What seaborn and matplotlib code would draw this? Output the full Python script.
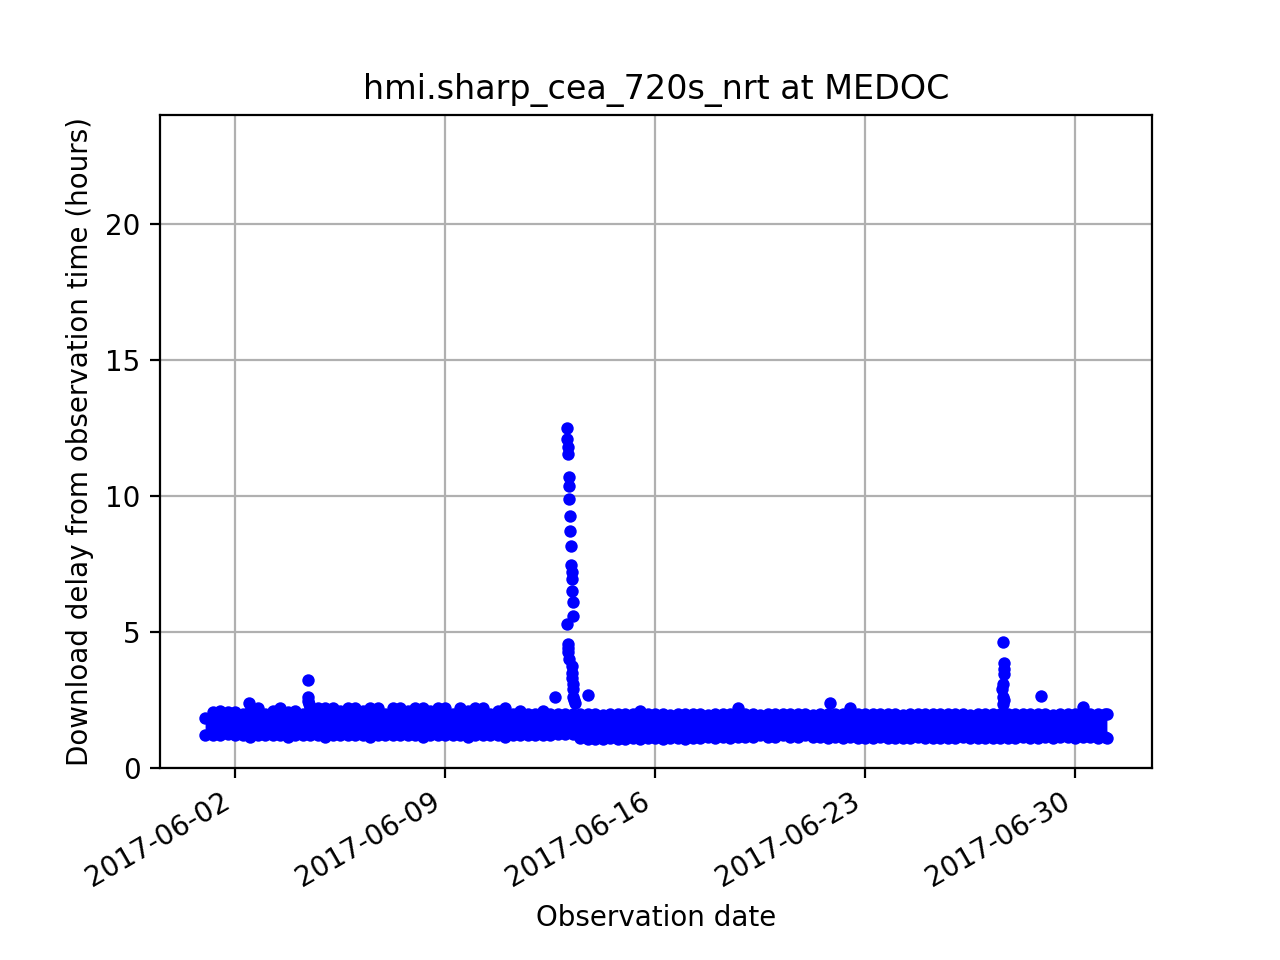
import numpy as np
import pandas as pd
import matplotlib
matplotlib.use("Agg")
import matplotlib.pyplot as plt
import seaborn as sns

# ---- data ----
# dense band of delays, sampled every 6 hours from 2017-06-01 00:00, plus a final sample
band_start = "2017-06-01 00:00"
band_last = "2017-07-01 01:30"
band_upper = [
    1.85, 2.05, 2.1, 2.05,   # 06-01
    2.05, 2.0, 2.1, 2.2,     # 06-02
    2.0, 2.1, 2.2, 2.05,     # 06-03
    2.1, 2.0, 2.2, 2.2,      # 06-04
    2.2, 2.2, 2.1, 2.2,      # 06-05
    2.2, 2.1, 2.2, 2.2,      # 06-06
    2.0, 2.2, 2.2, 2.1,      # 06-07
    2.2, 2.2, 2.1, 2.2,      # 06-08
    2.2, 2.0, 2.2, 2.1,      # 06-09
    2.2, 2.2, 2.0, 2.1,      # 06-10
    2.2, 2.0, 2.1, 2.0,      # 06-11
    2.0, 2.1, 2.0, 2.0,      # 06-12
    2.0, 2.0, 2.0, 2.0,      # 06-13
    2.0, 1.95, 2.0, 2.0,     # 06-14
    2.0, 2.0, 2.1, 2.0,      # 06-15
    2.0, 2.0, 1.95, 2.0,     # 06-16
    2.0, 2.0, 2.0, 1.95,     # 06-17
    2.0, 2.0, 2.0, 2.2,      # 06-18
    2.0, 2.0, 1.95, 2.0,     # 06-19
    2.0, 2.0, 2.0, 2.0,      # 06-20
    2.0, 1.95, 2.0, 2.0,     # 06-21
    2.0, 2.0, 2.2, 2.0,      # 06-22
    2.0, 2.0, 2.0, 2.0,      # 06-23
    2.0, 1.95, 2.0, 2.0,     # 06-24
    2.0, 2.0, 2.0, 2.0,      # 06-25
    2.0, 2.0, 1.95, 2.0,     # 06-26
    2.0, 2.0, 2.0, 2.0,      # 06-27
    2.0, 2.0, 2.0, 2.0,      # 06-28
    2.0, 1.95, 2.0, 2.0,     # 06-29
    2.0, 2.25, 2.0, 2.0,     # 06-30
    2.0, 2.0,                # 07-01
]
band_lower = [
    1.2, 1.2, 1.2, 1.25,     # 06-01
    1.2, 1.2, 1.15, 1.2,     # 06-02
    1.2, 1.2, 1.2, 1.15,     # 06-03
    1.2, 1.2, 1.2, 1.2,      # 06-04
    1.15, 1.2, 1.2, 1.2,     # 06-05
    1.2, 1.2, 1.15, 1.2,     # 06-06
    1.2, 1.2, 1.2, 1.2,      # 06-07
    1.2, 1.15, 1.2, 1.2,     # 06-08
    1.2, 1.2, 1.2, 1.15,     # 06-09
    1.2, 1.2, 1.2, 1.2,      # 06-10
    1.15, 1.2, 1.2, 1.2,     # 06-11
    1.2, 1.2, 1.2, 1.25,     # 06-12
    1.25, 1.25, 1.1, 1.05,   # 06-13
    1.05, 1.05, 1.1, 1.05,   # 06-14
    1.05, 1.1, 1.05, 1.1,    # 06-15
    1.1, 1.05, 1.1, 1.1,     # 06-16
    1.05, 1.1, 1.1, 1.15,    # 06-17
    1.1, 1.15, 1.1, 1.15,    # 06-18
    1.15, 1.15, 1.2, 1.15,   # 06-19
    1.15, 1.2, 1.15, 1.15,   # 06-20
    1.2, 1.15, 1.15, 1.1,    # 06-21
    1.15, 1.1, 1.15, 1.1,    # 06-22
    1.1, 1.1, 1.15, 1.1,     # 06-23
    1.1, 1.1, 1.1, 1.15,     # 06-24
    1.1, 1.1, 1.1, 1.1,      # 06-25
    1.1, 1.15, 1.1, 1.1,     # 06-26
    1.1, 1.1, 1.1, 1.1,      # 06-27
    1.1, 1.15, 1.1, 1.1,     # 06-28
    1.15, 1.1, 1.15, 1.15,   # 06-29
    1.1, 1.15, 1.15, 1.1,    # 06-30
    1.15, 1.1,               # 07-01
]

# individual delayed observations above the band
outlier_times = [
    "2017-06-02 11:12", "2017-06-04 10:24", "2017-06-04 10:24", "2017-06-04 10:24",
    "2017-06-04 10:48",
    "2017-06-12 16:00", "2017-06-13 01:24", "2017-06-13 01:36", "2017-06-13 01:48",
    "2017-06-13 02:00", "2017-06-13 02:00", "2017-06-13 02:12", "2017-06-13 02:12",
    "2017-06-13 02:36", "2017-06-13 02:48", "2017-06-13 03:00", "2017-06-13 03:12",
    "2017-06-13 03:24", "2017-06-13 03:48", "2017-06-13 04:12", "2017-06-13 04:36",
    "2017-06-13 04:48", "2017-06-13 05:12", "2017-06-13 05:24", "2017-06-13 05:36",
    "2017-06-13 06:12", "2017-06-13 06:24", "2017-06-13 05:24", "2017-06-13 05:48",
    "2017-06-13 05:48", "2017-06-13 06:12", "2017-06-13 06:24", "2017-06-13 06:36",
    "2017-06-13 07:00", "2017-06-13 08:00", "2017-06-13 18:24",
    "2017-06-21 20:00",
    "2017-06-27 13:30", "2017-06-27 14:00", "2017-06-27 14:00", "2017-06-27 14:24",
    "2017-06-27 14:36", "2017-06-27 14:48", "2017-06-27 15:00", "2017-06-27 15:12",
    "2017-06-27 15:24",
    "2017-06-28 20:48",
]
outlier_delays = [
    2.4, 3.23, 2.6, 2.45,
    2.35,
    2.6, 5.3, 12.5, 12.1,
    11.8, 4.55, 11.55, 4.4,
    4.25, 4.0, 10.7, 10.35,
    9.9, 9.25, 8.7, 8.15,
    7.45, 7.2, 6.95, 6.5,
    6.1, 5.6, 3.5, 3.75,
    3.3, 3.1, 2.9, 2.6,
    2.5, 2.4, 2.7,
    2.4,
    2.9, 3.1, 2.6, 4.65,
    2.35, 3.85, 3.65, 3.45,
    2.5,
    2.65,
]

title = "hmi.sharp_cea_720s_nrt at MEDOC"
x_label = "Observation date"
y_label = "Download delay from observation time (hours)"
x_tick_dates = ["2017-06-02", "2017-06-09", "2017-06-16", "2017-06-23", "2017-06-30"]
y_ticks = [0, 5, 10, 15, 20]

# ---- build frames ----
band_times = list(pd.date_range(band_start, periods=len(band_upper) - 1, freq="6h")) + [pd.Timestamp(band_last)]
band = pd.DataFrame({"time": band_times, "upper": band_upper, "lower": band_lower})
points = pd.concat([
    pd.DataFrame({"time": band["time"], "delay": band["upper"]}),
    pd.DataFrame({"time": band["time"], "delay": band["lower"]}),
    pd.DataFrame({"time": pd.to_datetime(outlier_times), "delay": outlier_delays}),
], ignore_index=True)

plt.rcParams["font.family"] = ["DejaVu Sans"]
fig, ax = plt.subplots(figsize=(6.4, 4.8), dpi=200)
ax.set_axisbelow(True)
ax.grid(True, color="#b0b0b0", linewidth=0.8)

ax.fill_between(band["time"], band["lower"], band["upper"], color="blue", linewidth=0, zorder=2)
sns.scatterplot(data=points, x="time", y="delay", color="blue", s=20, linewidth=0,
                ax=ax, zorder=3, legend=False)

ax.set_ylim(0, 24)
ax.set_yticks(y_ticks)
ax.set_xticks(pd.to_datetime(x_tick_dates))
ax.set_xticklabels(x_tick_dates)
ax.set_title(title)
ax.set_xlabel(x_label)
ax.set_ylabel(y_label)
for s in ax.spines.values():
    s.set_color("black")
    s.set_linewidth(0.8)
fig.autofmt_xdate()
fig.savefig("out.png", dpi=200)
